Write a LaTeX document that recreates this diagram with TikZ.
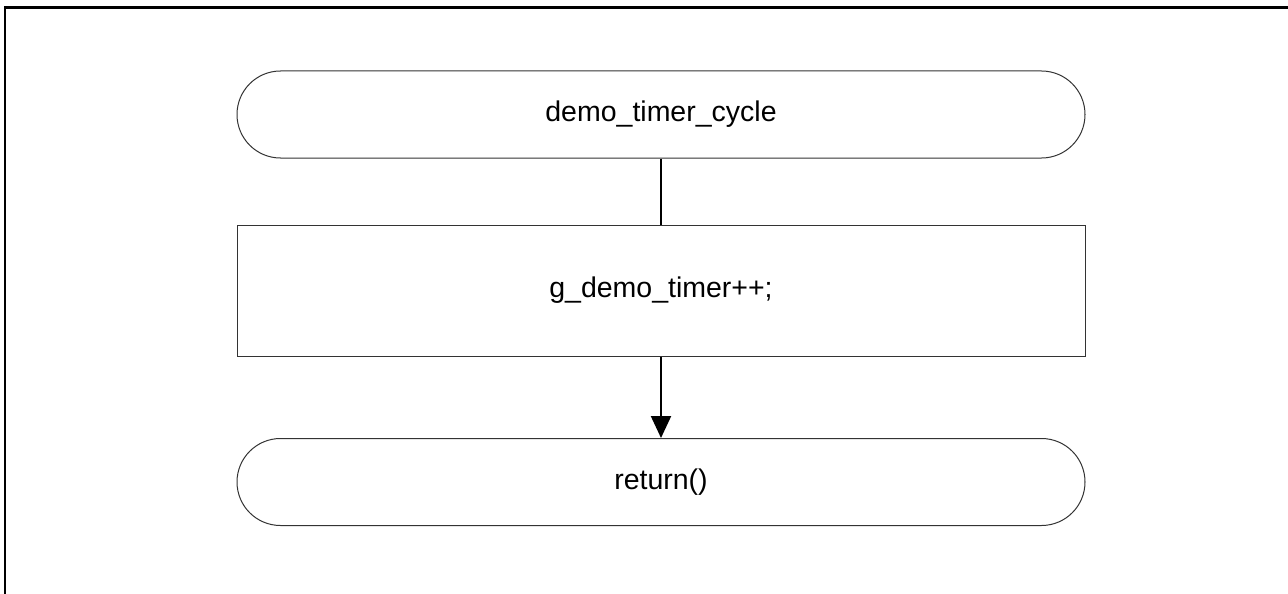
\documentclass[tikz,border=0pt]{standalone}
\usepackage{fontspec}
\setmainfont{Liberation Sans}
\usetikzlibrary{shapes.misc,arrows.meta}
\begin{document}
\begin{tikzpicture}[x=1pt,y=-1pt,
  term/.style={rounded rectangle, draw=black!80, line width=1pt, minimum width=848pt, minimum height=87pt, inner sep=0pt, font=\fontsize{28.5}{31}\selectfont},
  proc/.style={rectangle, draw=black!80, line width=1pt, minimum width=848pt, minimum height=131pt, inner sep=0pt, font=\fontsize{28.5}{31}\selectfont},
  conn/.style={line width=2.2pt, black},
  frame/.style={line width=2.2pt, black}]
\useasboundingbox (0,0) rectangle (1288,594);
\draw[frame] (5,594) -- (5,7.5) -- (1288,7.5);
\node[term] (start) at (661,114.5) {demo\_timer\_cycle};
\node[proc] (inc) at (661,290.5) {g\_demo\_timer++;};
\node[term] (ret) at (661,482) {return()};
\draw[conn] (start.south) -- (inc.north);
\draw[conn, -{Triangle[width=20pt,length=22pt]}] (inc.south) -- (ret.north);
\end{tikzpicture}
\end{document}
